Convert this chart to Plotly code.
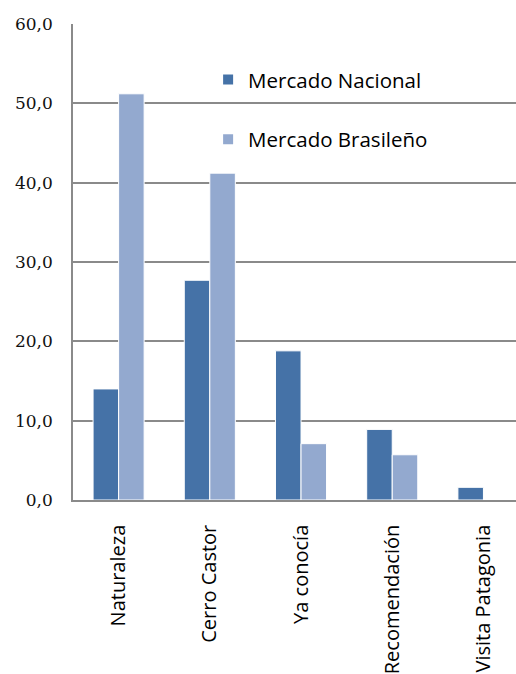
import plotly.graph_objects as go

categories = ["Naturaleza", "Cerro Castor", "Ya conocía", "Recomendación", "Visita Patagonia"]
nacional = [14.0, 27.7, 18.8, 8.9, 1.6]
brasileno = [51.2, 41.2, 7.1, 5.7, 0.0]
y_ticks = [0, 10, 20, 30, 40, 50, 60]

fig = go.Figure()
fig.add_trace(go.Bar(x=categories, y=nacional, name="Mercado Nacional",
                     marker=dict(color="#4572A7", line=dict(color="white", width=1)),
                     legendgroup="a"))
fig.add_trace(go.Bar(x=categories, y=brasileno, name="Mercado Brasileño",
                     marker=dict(color="#93A9CF", line=dict(color="white", width=1)),
                     legendgroup="b"))

fig.update_layout(
    width=516, height=674,
    margin=dict(l=73, r=0, t=24, b=174),
    paper_bgcolor="white", plot_bgcolor="white",
    separators=",.",
    barmode="group", bargap=0.44, bargroupgap=0,
    showlegend=True,
    legend=dict(x=0.305, y=0.925, xanchor="left", yanchor="top",
                font=dict(family="Open Sans", size=20.5, color="black"),
                bgcolor="rgba(0,0,0,0)", tracegroupgap=30,
                itemsizing="constant", itemwidth=30),
    xaxis=dict(type="category", range=[-0.5, 4.357], automargin=False,
               tickangle=-90, tickfont=dict(family="Open Sans", size=20, color="black"),
               showline=True, linecolor="#8a8a8a", linewidth=1.5,
               showgrid=False, ticks="", ticklabelstandoff=15),
    yaxis=dict(range=[0, 60], tickvals=y_ticks, tickformat=".1f", automargin=False,
               tickfont=dict(family="DejaVu Serif", size=17, color="#111111"),
               showline=True, linecolor="#8a8a8a", linewidth=1.5,
               showgrid=True, gridcolor="#8a8a8a", gridwidth=1.5,
               zeroline=False, ticks="", ticklabelstandoff=15),
)

fig.write_html("out.html")
